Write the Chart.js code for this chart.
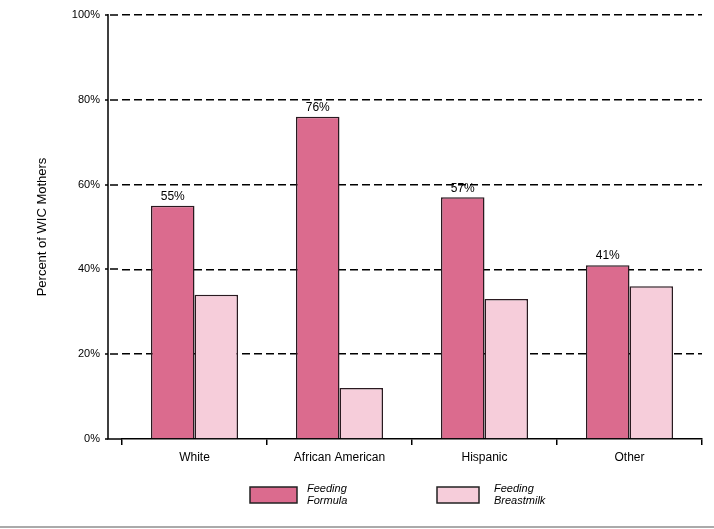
<!DOCTYPE html>
<html>
<head>
<meta charset="utf-8">
<script src="https://cdn.jsdelivr.net/npm/chart.js@4.4.0/dist/chart.umd.min.js"></script>
<style>
  html, body { margin: 0; padding: 0; background: #fff; }
  #wrap { width: 714px; height: 529px; position: relative; }
  #line { position: absolute; left: 0; top: 526px; width: 714px; height: 2px; background: #aaa; }
</style>
</head>
<body>
<div id="wrap">
  <canvas id="chartWic" width="714" height="529"></canvas>
  <div id="line"></div>
</div>
<script>
var groups = ['White', 'African American', 'Hispanic', 'Other'];
var formula = [55, 76, 57, 41];
var breastmilk = [34, 12, 33, 36];
var yTicks = [0, 20, 40, 60, 80, 100];
var legendNames = [['Feeding', 'Formula'], ['Feeding', 'Breastmilk']];

var FONT = '"Liberation Sans", Arial, sans-serif';
var AXIS_X = 108;

// y axis line, tick marks and dashed grid stubs left of the category area
var axisPlugin = {
    id: 'axisPlugin',
    afterDraw: function (chart) {
        var c = chart.ctx, a = chart.chartArea, y = chart.scales.y;
        c.save();
        c.strokeStyle = '#000';
        c.lineWidth = 1.5;
        c.beginPath();
        c.moveTo(AXIS_X, a.top - 1);
        c.lineTo(AXIS_X, a.bottom);
        c.lineTo(a.left, a.bottom);
        c.stroke();
        yTicks.forEach(function (v) {
            var py = Math.round(y.getPixelForValue(v));
            c.setLineDash([]);
            c.beginPath();
            c.moveTo(AXIS_X - 3, py);
            c.lineTo(AXIS_X, py);
            c.stroke();
            if (v > 0) {
                c.setLineDash([8, 4]);
                c.beginPath();
                c.moveTo(AXIS_X + 2, py);
                c.lineTo(a.left, py);
                c.stroke();
            }
        });
        c.restore();
    }
};

// value labels above formula bars
var labelPlugin = {
    id: 'labelPlugin',
    afterDatasetsDraw: function (chart) {
        var c = chart.ctx;
        var meta = chart.getDatasetMeta(0);
        c.save();
        c.fillStyle = '#000';
        c.font = '12px ' + FONT;
        c.textAlign = 'center';
        c.textBaseline = 'bottom';
        meta.data.forEach(function (bar, i) {
            c.fillText(formula[i] + '%', bar.x, bar.y - 3);
        });
        c.restore();
    }
};

// two-line legend below the axis
var legendPlugin = {
    id: 'legendPlugin',
    afterDraw: function (chart) {
        var c = chart.ctx;
        var boxes = [{ x: 250, w: 47, tx: 307 }, { x: 437, w: 42, tx: 494 }];
        c.save();
        chart.data.datasets.forEach(function (ds, i) {
            var b = boxes[i];
            c.fillStyle = ds.backgroundColor;
            c.fillRect(b.x, 487, b.w, 16);
            c.strokeStyle = '#222';
            c.lineWidth = 1.5;
            c.strokeRect(b.x, 487, b.w, 16);
            c.fillStyle = '#000';
            c.font = 'italic 11px ' + FONT;
            c.textAlign = 'left';
            c.textBaseline = 'middle';
            c.fillText(legendNames[i][0], b.tx, 489);
            c.fillText(legendNames[i][1], b.tx, 501);
        });
        c.restore();
    }
};

var ctx = document.getElementById('chartWic');
var wicChart = new Chart(ctx, {
    type: 'bar',
    data: {
        labels: groups,
        datasets: [{
            label: 'Feeding Formula',
            data: formula,
            backgroundColor: '#DB6B8E',
            borderColor: '#2a1a20',
            borderWidth: 1.5,
            categoryPercentage: 0.6,
            barPercentage: 1.0
        }, {
            label: 'Feeding Breastmilk',
            data: breastmilk,
            backgroundColor: '#F6CDDA',
            borderColor: '#2a1a20',
            borderWidth: 1.5,
            categoryPercentage: 0.6,
            barPercentage: 1.0
        }]
    },
    options: {
        responsive: false,
        animation: false,
        layout: { padding: { top: 15, right: 12, bottom: 60, left: 0 } },
        plugins: {
            legend: { display: false },
            tooltip: { enabled: false }
        },
        scales: {
            x: {
                offset: true,
                border: { display: true, color: '#000', width: 1.5 },
                grid: {
                    offset: true,
                    drawOnChartArea: false,
                    drawTicks: true,
                    tickLength: 6,
                    color: '#000',
                    lineWidth: 1.5
                },
                ticks: { color: '#000', font: { family: FONT, size: 12 }, padding: 5, maxRotation: 0 },
                afterFit: function (s) { s.height = 30; }
            },
            y: {
                min: 0,
                max: 100,
                afterBuildTicks: function (s) {
                    s.ticks = yTicks.map(function (v) { return { value: v }; });
                },
                grid: {
                    drawTicks: true,
                    tickLength: 18,
                    tickColor: 'rgba(0,0,0,0)',
                    color: function (c) { return c.tick && c.tick.value === 0 ? 'rgba(0,0,0,0)' : '#000'; },
                    lineWidth: 1.5
                },
                border: { display: false, dash: [8, 4] },
                ticks: {
                    padding: 4,
                    color: '#000',
                    font: { family: FONT, size: 11 },
                    callback: function (v) { return v + '%'; }
                },
                title: {
                    display: true,
                    text: 'Percent of WIC Mothers',
                    color: '#000',
                    font: { family: FONT, size: 13 },
                    padding: { top: 35, bottom: 0 }
                },
                afterFit: function (s) { s.width = 122; }
            }
        }
    },
    plugins: [axisPlugin, labelPlugin, legendPlugin]
});
</script>
</body>
</html>
